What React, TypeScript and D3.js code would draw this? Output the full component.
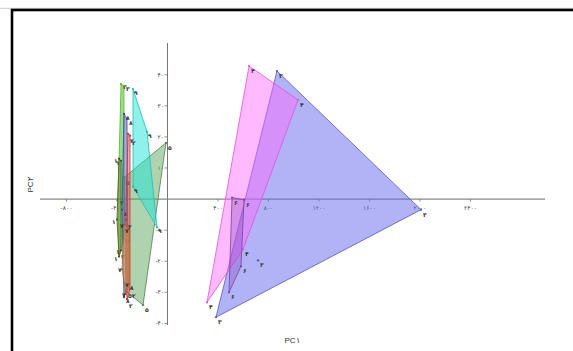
import React from "react";
import * as d3 from "d3";

// ---- data (PC1, PC2 scores of hull vertices per group) ----
const blueLabel = "۳";
const blueX = [867, 2008, 384];
const blueY = [41.2, -3.4, -38.0];

const pinkLabel = "۴";
const pinkX = [646, 1034, 598, 313];
const pinkY = [42.8, 31.9, -16.2, -33.2];

const purpleLabel = "۶";
const purpleX = [511, 606, 582, 487];
const purpleY = [0.5, -0.2, -21.6, -30.0];

const sageLabel = "۵";
const sageX = [-12, -194, -329, -345];
const sageY = [18.1, -34.1, -29.6, 6.9];

const cyanLabel = "۹";
const cyanX = [-273, -162, -83, -273];
const cyanY = [35.4, 21.6, -9.1, 4.0];

const limeLabel = "۳";
const limeX = [-368, -345, -345, -384, -392];
const limeY = [37.0, 36.4, -13.0, -17.8, -0.2];

const oliveLabel = "۱";
const oliveX = [-384, -368, -368, -384, -400];
const oliveY = [13.0, 12.3, -16.5, -18.5, -6.6];

const navyLabel = "۸";
const navyX = [-345, -321, -313, -345, -360];
const navyY = [27.4, 25.8, -27.4, -31.6, -3.4];

const redLabel = "۲";
const redX = [-313, -297, -297, -321, -329];
const redY = [21.0, 20.4, -28.9, -32.2, -6.6];

const orangeLabel = "۷";
const orangeX = [-345, -305, -305, -329, -360];
const orangeY = [-8.2, -9.8, -27.4, -30.6, -22.6];

const singleLabel = "۳";
const singleX = [717];
const singleY = [-19.7];

const xTicks = [-800, -400, 400, 800, 1200, 1600, 2000, 2400];
const yTicks = [-40, -30, -20, -10, 10, 20, 30, 40];
const xTitle = "PC۱";
const yTitle = "PC۲";

// ---- helpers ----
const faDigits = "۰۱۲۳۴۵۶۷۸۹";
const fa = (v: number) =>
  (v < 0 ? "-" : "") + String(Math.abs(v)).replace(/[0-9]/g, (d) => faDigits[+d]);

const groups = [
  { label: sageLabel, xs: sageX, ys: sageY, fill: "#5fa85f", op: 0.5, stroke: "#4f7f4f", dx: 2, dy: 7 },
  { label: cyanLabel, xs: cyanX, ys: cyanY, fill: "#1fe6d6", op: 0.5, stroke: "#22bbbb", dx: 1, dy: 6 },
  { label: limeLabel, xs: limeX, ys: limeY, fill: "#33cc33", op: 0.55, stroke: "#66aa22", dx: 2, dy: 5 },
  { label: oliveLabel, xs: oliveX, ys: oliveY, fill: "#778833", op: 0.5, stroke: "#445522", dx: -5, dy: 4 },
  { label: navyLabel, xs: navyX, ys: navyY, fill: "#5555bb", op: 0.5, stroke: "#444499", dx: 2, dy: 6 },
  { label: redLabel, xs: redX, ys: redY, fill: "#dd5555", op: 0.5, stroke: "#cc3333", dx: 2, dy: 9 },
  { label: orangeLabel, xs: orangeX, ys: orangeY, fill: "#dd9944", op: 0.55, stroke: "#aa6633", dx: -4, dy: 3 },
  { label: blueLabel, xs: blueX, ys: blueY, fill: "#6666ee", op: 0.5, stroke: "#5555cc", dx: 2, dy: 7 },
  { label: pinkLabel, xs: pinkX, ys: pinkY, fill: "#ff66ff", op: 0.45, stroke: "#dd55dd", dx: 2, dy: 7 },
  { label: purpleLabel, xs: purpleX, ys: purpleY, fill: "#8844bb", op: 0.35, stroke: "#7744aa", dx: 2, dy: 7 },
];

export default function App() {
  const W = 573, H = 351;
  const x = d3.scaleLinear().domain([-1010, 2990]).range([40, 545]);
  const y = d3.scaleLinear().domain([-40.5, 50.2]).range([325, 43]);
  const line = d3.line<[number, number]>().x((d) => x(d[0])).y((d) => y(d[1]));

  return (
    <svg
      width={W}
      height={H}
      style={{ position: "absolute", left: 0, top: 0, background: "#fff" }}
      fontFamily="DejaVu Sans, sans-serif"
    >
      <rect x={0} y={0} width={W} height={H} fill="#fff" />
      <line x1={0} y1={8.3} x2={W} y2={8.3} stroke="#ccc" strokeWidth={1} />
      <rect x={12} y={10} width={W + 20} height={H + 20} fill="none" stroke="#000" strokeWidth={2.6} />

      {/* axes */}
      <line x1={x(-1010)} x2={x(2990)} y1={y(0)} y2={y(0)} stroke="#666" strokeWidth={1} />
      <line x1={x(0)} x2={x(0)} y1={y(50.2)} y2={y(-40.5)} stroke="#777" strokeWidth={1} />
      {xTicks.map((t) => (
        <g key={"xt" + t}>
          <line x1={x(t)} x2={x(t)} y1={y(0)} y2={y(0) + 2.5} stroke="#777" strokeWidth={0.8} />
          <text x={x(t)} y={y(0) + 10.5} fontSize={6} fill="#444" textAnchor="middle">
            {fa(t)}
          </text>
        </g>
      ))}
      {yTicks.map((t) => (
        <g key={"yt" + t}>
          <line x1={x(0) - 3} x2={x(0)} y1={y(t)} y2={y(t)} stroke="#777" strokeWidth={0.8} />
          <text x={x(0) - 3.5} y={y(t) + 2} fontSize={6} fill="#444" textAnchor="end">
            {fa(t)}
          </text>
        </g>
      ))}

      {/* hulls */}
      {groups.map((g, i) => {
        const pts = g.xs.map((v, k) => [v, g.ys[k]] as [number, number]);
        return (
          <g key={"g" + i}>
            <path
              d={line(pts) + "Z"}
              fill={g.fill}
              fillOpacity={g.op}
              stroke={g.stroke}
              strokeWidth={0.8}
            />
            {pts.map((p, k) => (
              <g key={k}>
                <circle cx={x(p[0])} cy={y(p[1])} r={1.1} fill={g.stroke} />
                <text x={x(p[0]) + g.dx} y={y(p[1]) + g.dy} fontSize={6} fill="#333" fontWeight="bold">
                  {g.label}
                </text>
              </g>
            ))}
          </g>
        );
      })}
      {singleX.map((v, k) => (
        <g key={"s" + k}>
          <circle cx={x(v)} cy={y(singleY[k])} r={1.2} fill="#5555cc" />
          <text x={x(v) + 2} y={y(singleY[k]) + 7} fontSize={6} fill="#333" fontWeight="bold">
            {singleLabel}
          </text>
        </g>
      ))}

      {/* titles */}
      <text x={292} y={343} fontSize={8} fill="#333" textAnchor="middle" fontFamily="Liberation Sans, Arial, sans-serif">
        {xTitle}
      </text>
      <text
        transform={`translate(33,185) rotate(-90)`}
        fontSize={8}
        fill="#333"
        textAnchor="middle"
        fontFamily="Liberation Sans, Arial, sans-serif"
      >
        {yTitle}
      </text>
    </svg>
  );
}
